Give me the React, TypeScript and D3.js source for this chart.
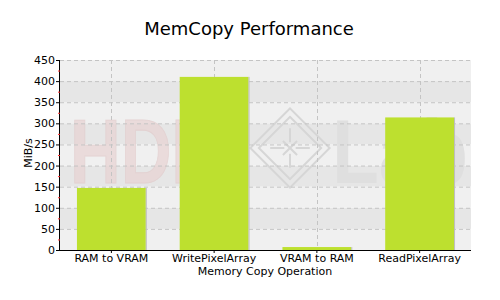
import React from "react";
import * as d3 from "d3";

const categories = ["RAM to VRAM", "WritePixelArray", "VRAM to RAM", "ReadPixelArray"];
const values = [147, 410, 7, 314];
const yTicks = [0, 50, 100, 150, 200, 250, 300, 350, 400, 450];
const minorTicks = [25, 75, 125, 175, 225, 275, 325, 375, 425];

const W = 500, H = 300;
const left = 60, right = 471, top = 60, bottom = 250;
const font = "'DejaVu Sans', Verdana, sans-serif";

export default function App() {
  const x = d3.scaleBand<string>().domain(categories).range([left, right]).paddingInner(0.33).paddingOuter(0.165);
  const y = d3.scaleLinear().domain([0, 450]).range([bottom, top]);
  const bands = yTicks.slice(0, -1);
  return (
    <svg width={W} height={H} style={{ position: "absolute", left: 0, top: 0, background: "#fff" }}>
      <defs>
        <clipPath id="plot">
          <rect x={left} y={top} width={right - left} height={bottom - top} />
        </clipPath>
      </defs>
      <text x={249} y={35} textAnchor="middle" fontFamily={font} fontSize={18} fill="#000">MemCopy Performance</text>
      {bands.map((b, i) => (
        <rect key={b} x={left} y={y(b + 50)} width={right - left} height={y(b) - y(b + 50)} fill={i % 2 === 1 ? "#e6e6e6" : "#f0f0f0"} />
      ))}
      <g clipPath="url(#plot)">
        <g transform="translate(70,183) scale(0.78,1)">
          <text x={0} y={0} fontFamily="'Liberation Sans', Arial, sans-serif" fontWeight="bold" fontSize={90} fill="#e8d4d4" stroke="#e2cccc" strokeWidth={1} opacity={0.75}>HDR</text>
        </g>
        <g transform="translate(290,148) rotate(45)" fill="none" stroke="#d6d6d6" strokeWidth={2}>
          <rect x={-28} y={-28} width={56} height={56} />
          <rect x={-22} y={-22} width={44} height={44} />
          <path d="M-14,-14 L-4,-4 M14,-14 L4,-4 M-14,14 L-4,4 M14,14 L4,4 M-10,0 L10,0 M0,-10 L0,10" />
        </g>
        <g transform="translate(332,183) scale(0.85,1)">
          <text x={0} y={0} fontFamily="'Liberation Sans', Arial, sans-serif" fontWeight="bold" fontSize={90} fill="#dedede" opacity={0.85}>Lab</text>
        </g>
      </g>
      {yTicks.filter(t => t > 0).map(t => (
        <line key={t} x1={left} x2={right} y1={y(t) + 0.5} y2={y(t) + 0.5} stroke="#c4c4c4" strokeDasharray="4,3" />
      ))}
      {categories.map(c => {
        const cx = Math.round(x(c)! + x.bandwidth() / 2) + 0.5;
        return <line key={c} x1={cx} x2={cx} y1={top} y2={bottom} stroke="#c4c4c4" strokeDasharray="4,3" />;
      })}
      {categories.map((c, i) => (
        <g key={c}>
          <rect x={x(c)!} y={y(values[i])} width={x.bandwidth()} height={bottom - y(values[i])} fill="#bde02f" />
          <line x1={x(c)! + x.bandwidth() + 0.5} x2={x(c)! + x.bandwidth() + 0.5} y1={y(values[i])} y2={bottom} stroke="#bdbdbd" />
        </g>
      ))}
      <line x1={left - 0.5} x2={left - 0.5} y1={top} y2={bottom} stroke="#000" />
      <line x1={left - 1} x2={right} y1={bottom + 0.5} y2={bottom + 0.5} stroke="#000" />
      {yTicks.map(t => (
        <g key={t}>
          <line x1={left - 4} x2={left} y1={y(t) + 0.5} y2={y(t) + 0.5} stroke="#000" />
          <text x={left - 5} y={y(t) + 4} textAnchor="end" fontFamily={font} fontSize={11} fill="#000">{t}</text>
        </g>
      ))}
      {minorTicks.map(t => (
        <line key={t} x1={left - 2} x2={left} y1={y(t) + 0.5} y2={y(t) + 0.5} stroke="#ff3030" />
      ))}
      {categories.map(c => {
        const cx = x(c)! + x.bandwidth() / 2;
        return (
          <g key={c}>
            <line x1={cx} x2={cx} y1={bottom} y2={bottom + 3} stroke="#000" />
            <text x={cx} y={262} textAnchor="middle" fontFamily={font} fontSize={11} fill="#000">{c}</text>
          </g>
        );
      })}
      <text x={265} y={275} textAnchor="middle" fontFamily={font} fontSize={11} fill="#000">Memory Copy Operation</text>
      <text transform="translate(32,153) rotate(-90)" textAnchor="middle" fontFamily={font} fontSize={11} fill="#000">MiB/s</text>
    </svg>
  );
}
